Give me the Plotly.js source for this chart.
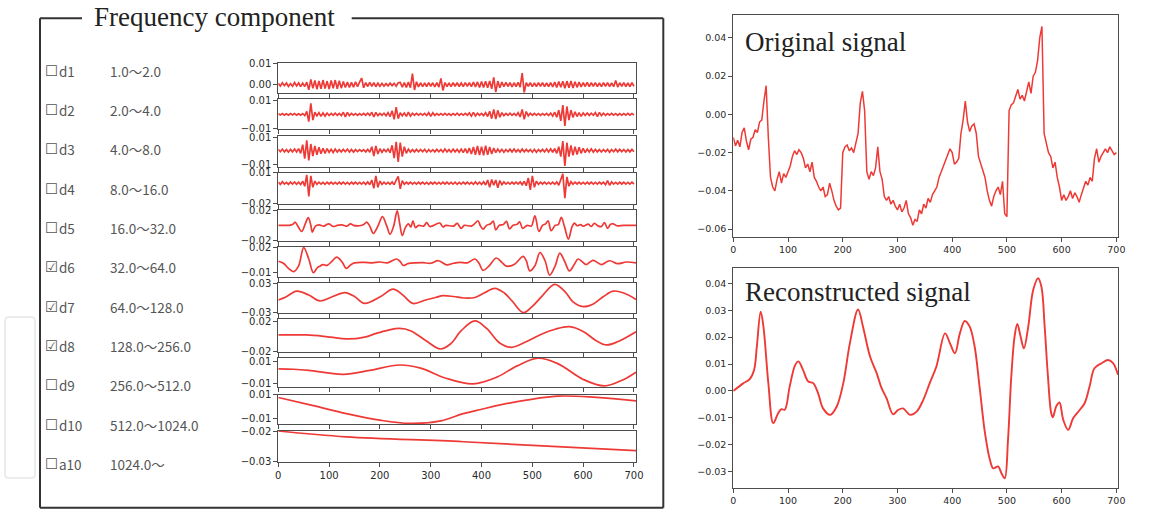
<!DOCTYPE html>
<html><head><meta charset="utf-8">
<script src="https://cdn.plot.ly/plotly-3.0.1.min.js"></script>
<style>html,body{margin:0;padding:0;background:#fff}#chart{width:1159px;height:512px}</style>
</head><body><div id="chart"></div>
<script>
// ---------------- DATA (values in units of 1e-4) ----------------
const UNIT = 1e-4;
const SAMPLE_STEP = 4;           // spacing of the densely read series
const componentNames = ['d1','d2','d3','d4','d5','d6','d7','d8','d9','d10','a10'];
const componentBands = ['1.0〜2.0','2.0〜4.0','4.0〜8.0','8.0〜16.0','16.0〜32.0','32.0〜64.0','64.0〜128.0','128.0〜256.0','256.0〜512.0','512.0〜1024.0','1024.0〜'];
const componentChecked = [false,false,false,false,false,true,true,true,false,false,false];

const d1 = [6,-7,9,-5,8,-9,5,-8,10,-6, 8,-10,7,-9,12,-25,25,-18,20,-22, 18,-20,22,-19,17,-21,20,-18,22,-20,
 19,-17,15,-14,12,-13,11,-12,14,-10, 12,32,-15,10,-9,11,-8,9,-10,7, -8,6,-7,5,-6,7,-5,6,-8,9,
 11,-12,10,-13,12,-15,53,-26,14,-11, 9,-10,8,-9,10,-8,9,-11,10,-12, 30,-28,10,-9,8,-10,9,-8,10,-9,
 8,-9,10,-8,9,-10,12,-11,13,-14, 15,-14,16,-15,18,-20,35,-36,17,-15, 12,-10,11,-9,10,-11,9,-10,11,-12,
 56,-39,10,-8,9,-10,8,-9,10,-8, 9,-10,8,-9,10,-11,12,-14,15,-13, 16,-18,17,-15,18,-16,14,-13,12,-11,
 10,-9,11,-10,9,-8,10,-9,8,-10, 9,-8,10,-9,8,-10,20,-12,9,-8, 10,-9,8,-10,9,-8];
const d2 = [5,-4,6,-5,4,-6,5,-4,6,-5, 4,-5,6,-8,20,-50,77,-40,15,-10, 12,-14,10,-12,9,-8,7,-6,8,-7,
 6,-8,15,-18,14,-9,7,-6,5,-7, 6,-5,7,-6,8,-7,15,-18,14,-9, 7,-6,8,-10,12,-15,25,-35,50,-30,
 12,-9,10,-14,16,-12,8,-6,7,-5, 6,-5,7,-8,12,-14,11,-7,6,-5, 5,-6,7,-5,6,-7,5,-6,8,-7,
 6,-5,7,-6,10,-12,14,-11,8,-6, 7,-9,12,-15,22,-30,35,-33,28,-20, 12,-9,7,-6,8,-7,6,-8,12,-18,
 35,-35,20,-10,8,-6,7,-5,6,-7, 6,-5,7,-8,9,-12,15,-20,30,-45, 65,-80,55,-40,30,-22,18,-15,12,-14,
 10,-8,9,-7,8,-6,12,-15,14,-9, 8,-7,6,-5,7,-6,5,-7,6,-5, 6,-5,7,-6,5,-4];
const d3 = [10,-8,12,-9,8,-11,10,-9,12,-10, 15,-20,45,-60,77,-72,50,-40,35,-30, 25,-22,18,-20,15,-12,10,-14,12,-10,
 8,-9,10,-8,12,-10,9,-11,8,-7, 8,-6,7,-9,10,-12,30,-40,35,-25, 15,-12,10,-8,12,-15,40,-55,67,-84,
 60,-45,30,-20,12,-10,8,-9,10,-8, 9,-8,10,-11,9,-8,7,-9,10,-8, 9,-10,12,-9,8,-10,11,-9,10,-12,
 12,-14,15,-18,20,-25,28,-30,35,-32, 30,-35,38,-30,28,-25,20,-15,12,-10, 10,-12,9,-8,11,-10,12,-9,8,-10,
 12,-9,10,-8,9,-11,10,-12,9,-8, 10,-9,12,-10,14,-12,15,-20,30,-45, 72,-115,60,-45,40,-35,30,-28,25,-20,
 18,-15,12,-10,14,-12,10,-9,8,-10, 9,-8,10,-12,9,-8,11,-9,10,-8, 9,-10,8,-9,10,-8];
const d4 = [10,-12,14,-9,8,-12,11,-8,12,-10, 9,-14,20,-30,80,-128,70,-40,20,-12, 10,-9,8,-11,9,-8,10,-9,8,-10,
 9,-8,10,-9,8,-11,9,-8,10,-9, 8,-9,10,-12,12,-15,30,-50,70,-40, 20,-12,10,-9,8,-10,12,-15,30,65,
 -55,25,-12,9,-8,10,-9,8,-10,9, -8,10,-9,8,-11,9,-8,10,-9,8, -10,9,-8,10,-9,8,-10,9,-11,8,
 -9,10,-8,9,-10,8,-11,12,-10,9, -12,14,-18,30,-40,35,-20,30,-45,25, -15,12,-9,8,-10,9,-8,10,-9,12,
 -14,18,-25,50,-64,70,-40,20,-12,9, -8,10,-9,8,-10,9,-10,12,-20,40, 90,-145,60,-30,15,-10,9,-8,10,-9,
 8,-10,9,-8,10,-9,8,-10,9,-8, 10,-15,25,-20,12,-9,8,-10,9,-8, 10,-9,8,-10,9,-8];
const d5t = [0,20,28,33,38,46,53,59,64,67,73,80,90,95,100,108,116,125,135,142,148,160,168,174,180,187,196,205,213,220,
 227,234,239,244,250,256,261,265,270,276,286,292,298,306,318,324,330,345,352,360,366,380,387,393,398,403,410,418,423,428,
 435,443,449,455,462,470,475,481,490,498,505,513,520,526,531,537,545,551,557,563,571,578,583,588,595,600,610,616,622,630,
 636,642,648,654,659,666,680,704];
const d5v = [0,0,10,43,-5,-80,20,100,0,-90,-10,5,-10,10,20,-15,0,5,-10,20,0,-5,10,43,-10,-104,-10,113,0,-117,
 -10,190,20,-134,-30,20,-20,60,-30,0,-10,35,-15,0,30,-20,0,-10,25,-40,0,-10,25,60,-10,-50,0,20,55,-60,
 0,10,52,-45,0,15,45,-40,0,-10,126,-80,0,20,60,-70,0,10,104,-10,-180,-20,30,-5,10,-10,15,-15,25,-10,
 -15,35,-40,15,20,-5,0,0];
const d6t = [0,10,20,30,40,50,60,69,77,82,88,96,105,115,125,134,142,150,170,185,200,215,233,240,246,255,270,285,300,315,
 331,345,357,372,387,395,403,415,429,440,449,465,482,488,495,505,515,525,534,545,554,563,573,582,590,598,606,619,628,636,
 652,668,685,704];
const d6v = [34,10,-50,-89,-20,194,60,-100,-40,-24,-5,-15,30,83,30,-50,-10,15,20,15,25,15,60,30,-16,5,15,18,10,40,
 -8,10,20,15,60,10,-73,-20,72,20,-24,0,91,40,-80,-20,137,40,-130,-20,129,40,-80,-10,60,30,-5,45,20,-5,
 40,5,25,15];
const d7t = [0,15,36,60,82,105,131,150,170,200,226,245,265,290,311,324,345,365,387,405,426,445,460,482,500,520,544,565,580,600,620,640,659,680,704];
const d7v = [-40,20,140,60,-60,20,110,30,-110,20,180,60,-110,-40,15,47,30,0,10,100,196,100,-60,-297,-170,50,277,120,-80,-175,-120,30,140,100,-30];
const d8t = [0,30,56,90,138,170,193,215,239,260,290,319,340,360,387,410,435,459,490,520,545,573,600,625,646,670,704];
const d8v = [23,25,23,5,-30,-5,45,85,110,80,-50,-164,-90,80,210,110,-80,-142,-60,40,100,133,70,-50,-110,-60,67];
const d9t = [0,30,60,128,180,239,280,330,383,430,470,511,550,600,642,680,704];
const d9v = [33,30,20,-15,20,68,40,-50,-100,-40,60,128,80,-60,-118,-60,4];
const d10t = [0,69,134,200,259,320,364,396,462,550,626,704];
const d10v = [78,10,-57,-111,-138,-117,-57,-24,37,89,78,49];
const a10t = [0,134,364,704];
const a10v = [-200,-219,-235,-264];

const originalSignal = [-120,-165,-135,-170,-95,-70,-140,-185,-130,-120, -80,-95,-40,-30,70,150,-120,-330,-380,-400,
 -340,-300,-360,-310,-330,-300,-270,-220,-190,-210, -185,-200,-230,-280,-260,-300,-250,-330,-350,-380,
 -400,-380,-430,-420,-360,-400,-450,-480,-500,-490, -200,-170,-160,-190,-175,-200,-150,-100,60,120,
 20,-300,-340,-300,-320,-280,-170,-300,-340,-430, -450,-430,-470,-450,-480,-500,-470,-510,-490,-450,
 -520,-540,-580,-550,-560,-500,-520,-470,-490,-440, -460,-420,-400,-380,-330,-300,-270,-240,-220,-180,
 -200,-260,-250,-230,-100,-30,70,-40,-90,-60, -50,-100,-220,-260,-300,-330,-400,-450,-480,-430,
 -400,-380,-420,-350,-520,-535,20,50,60,90, 130,80,100,70,120,170,110,200,220,280,
 400,460,-100,-150,-200,-220,-280,-250,-330,-380, -450,-420,-450,-430,-400,-440,-410,-430,-460,-420,
 -380,-350,-370,-330,-350,-230,-180,-250,-220,-200, -180,-200,-170,-190,-210,-200];
const reconT = [0,18,30,38,43,50,55,64,73,82,88,94,103,113,119,127,137,146,155,164,177,189,201,213,228,237,250,262,271,280,
 292,301,310,323,335,347,359,371,387,396,405,414,423,432,441,450,460,469,475,484,490,496,502,508,514,519,525,531,539,548,
 557,563,569,575,581,584,590,596,603,612,621,633,642,651,660,673,685,694,703];
const reconV = [0,28,44,78,165,295,240,30,-120,-83,-68,-70,16,96,110,80,35,29,-9,-65,-89,-58,29,177,303,239,127,66,10,-27,
 -87,-71,-65,-89,-77,-34,29,90,214,177,140,214,260,239,165,16,-158,-257,-288,-281,-306,-325,-182,53,202,249,202,158,239,375,
 419,388,239,53,-83,-98,-58,-43,-108,-145,-102,-71,-46,16,84,103,115,103,60];

const axisTicks100 = [0,100,200,300,400,500,600,700];
const compYRange = [[-0.0039,0.0103],[-0.0104,0.0105],[-0.012,0.011],[-0.0201,0.0101],[-0.0201,0.0201],[-0.0155,0.0205],
 [-0.031,0.031],[-0.0204,0.0232],[-0.013,0.013],[-0.0143,0.0101],[-0.0301,-0.0199]];
const compYTicks = [[0,0.01],[-0.01,0.01],[-0.01,0.01],[-0.02,0.01],[-0.02,0.02],[-0.01,0.02],[-0.03,0.03],[-0.02,0.02],[-0.01,0.01],[-0.01,0.01],[-0.03,-0.02]];
const origYTicks = [-0.06,-0.04,-0.02,0,0.02,0.04];
const reconYTicks = [-0.03,-0.02,-0.01,0,0.01,0.02,0.03,0.04];

// ---------------- LAYOUT / STYLE ----------------
const W = 1159, H = 512;
const RED = '#ee3a36';
const FRAME = '#4d4d4d';
const TICKFONT_S = {family:'DejaVu Sans', size:10, color:'#2a2a2a'};
const TICKFONT_B = {family:'DejaVu Sans', size:9.5, color:'#2a2a2a'};
const px = v => v / W;
const py = v => 1 - v / H;
const fmt = v => (v < 0 ? '\u2212' : '') + Math.abs(v).toFixed(2);

const compTop = [63.3,99.3,136,172.7,210,246.7,282.7,319.3,358,394.7,430.7];
const compBot = [92.7,129.3,166.7,204,240.7,277.3,313.3,352,387.3,424,462];
const rowY = [71,110,149,189,228,267,307,346,385,425,464];

const layout = {width:W, height:H, margin:{l:0,r:0,t:0,b:0}, paper_bgcolor:'#fff', plot_bgcolor:'#fff',
  showlegend:false, shapes:[], annotations:[]};
const data = [];

const series = [
  {v:d1},{v:d2},{v:d3},{v:d4},
  {t:d5t,v:d5v},{t:d6t,v:d6v},{t:d7t,v:d7v},{t:d8t,v:d8v},{t:d9t,v:d9v},{t:d10t,v:d10v},{t:a10t,v:a10v}
];

function axId(n){ return n === 1 ? '' : String(n); }

series.forEach((s, i) => {
  const n = i + 1, id = axId(n);
  const xs = s.t ? s.t : s.v.map((_, k) => k * SAMPLE_STEP);
  data.push({type:'scatter', mode:'lines', x:xs, y:s.v.map(v => v * UNIT), xaxis:'x'+id, yaxis:'y'+id,
    line:{color:RED, width:s.t ? 1.7 : 1.7, shape:s.t ? 'spline' : 'linear'}, hoverinfo:'skip'});
  layout['xaxis'+id] = {domain:[px(278.3), px(636)], range:[0,704], anchor:'y'+id,
    showline:true, mirror:true, linecolor:FRAME, linewidth:1, ticks:'outside', ticklen:4, tickwidth:1, tickcolor:FRAME,
    tickvals:axisTicks100, ticktext:axisTicks100.map(String), showticklabels:n === 11, tickfont:TICKFONT_S,
    showgrid:false, zeroline:false, fixedrange:true};
  layout['yaxis'+id] = {domain:[py(compBot[i]), py(compTop[i])], range:compYRange[i], anchor:'x'+id,
    showline:true, mirror:true, linecolor:FRAME, linewidth:1, ticks:'outside', ticklen:4, tickwidth:1, tickcolor:FRAME,
    tickvals:compYTicks[i], ticktext:compYTicks[i].map(fmt), tickfont:TICKFONT_S,
    showgrid:false, zeroline:false, fixedrange:true};
});

// big panels
const big = [
  {n:12, x:originalSignal.map((_, k) => k * SAMPLE_STEP), y:originalSignal, top:15, bot:236.7, range:[-0.064,0.052], ticks:origYTicks, w:1.5, shape:'linear'},
  {n:13, x:reconT, y:reconV, top:268.3, bot:487.7, range:[-0.036,0.0456], ticks:reconYTicks, w:1.9, shape:'spline'}
];
big.forEach(b => {
  const id = String(b.n);
  data.push({type:'scatter', mode:'lines', x:b.x, y:b.y.map(v => v * UNIT), xaxis:'x'+id, yaxis:'y'+id,
    line:{color:RED, width:b.w, shape:b.shape}, hoverinfo:'skip'});
  layout['xaxis'+id] = {domain:[px(733.3), px(1118)], range:[0,703], anchor:'y'+id,
    showline:true, mirror:true, linecolor:FRAME, linewidth:1, ticks:'outside', ticklen:4, tickwidth:1, tickcolor:FRAME,
    tickvals:axisTicks100, ticktext:axisTicks100.map(String), tickfont:TICKFONT_B, showgrid:false, zeroline:false, fixedrange:true};
  layout['yaxis'+id] = {domain:[py(b.bot), py(b.top)], range:b.range, anchor:'x'+id,
    showline:true, mirror:true, linecolor:FRAME, linewidth:1, ticks:'outside', ticklen:4, tickwidth:1, tickcolor:FRAME,
    tickvals:b.ticks, ticktext:b.ticks.map(fmt), tickfont:TICKFONT_B, showgrid:false, zeroline:false, fixedrange:true};
});

// faint watermark outline at the far left
const wmL = px(5), wmR = px(35), wmT = py(317), wmB = py(478), rx = px(4), ry = 4 / H;
layout.shapes.push({type:'path', xref:'paper', yref:'paper', layer:'below',
  path:`M ${wmL+rx},${wmT} L ${wmR-rx},${wmT} Q ${wmR},${wmT} ${wmR},${wmT-ry} L ${wmR},${wmB+ry} Q ${wmR},${wmB} ${wmR-rx},${wmB} L ${wmL+rx},${wmB} Q ${wmL},${wmB} ${wmL},${wmB+ry} L ${wmL},${wmT-ry} Q ${wmL},${wmT} ${wmL+rx},${wmT} Z`,
  line:{color:'#ececec', width:2}});

// frame of the left group box
const boxColor = '#333';
[[40,18.3,82,18.3],[351.7,18.3,663.3,18.3],[40,18.3,40,507.7],[663.3,18.3,663.3,507.7],[40,507.7,663.3,507.7]].forEach(l => {
  layout.shapes.push({type:'line', xref:'paper', yref:'paper', x0:px(l[0]), y0:py(l[1]), x1:px(l[2]), y1:py(l[3]),
    line:{color:boxColor, width:2}});
});

const serif = {family:'Liberation Serif, Times New Roman, serif', size:27, color:'#222'};
function note(text, x, y, font, anchor){
  layout.annotations.push({text:text, xref:'paper', yref:'paper', x:px(x), y:py(y), xanchor:anchor || 'left', yanchor:'middle',
    showarrow:false, font:font, borderpad:0});
}
note('Frequency component', 93, 17, serif);
note('Original signal', 744, 42, serif);
note('Reconstructed signal', 744, 292, serif);

const labFont = {family:'Noto Sans CJK JP, sans-serif', size:13.5, color:'#555'};
const boxFont = {family:'DejaVu Sans, sans-serif', size:14.5, color:'#555'};
componentNames.forEach((nm, i) => {
  note(componentChecked[i] ? '\u2611' : '\u2610', 44, rowY[i], boxFont);
  note(nm, 57.5, rowY[i], labFont);
  note(componentBands[i], 109, rowY[i], labFont);
});

Plotly.newPlot('chart', data, layout, {staticPlot:true, displayModeBar:false});
</script></body></html>
